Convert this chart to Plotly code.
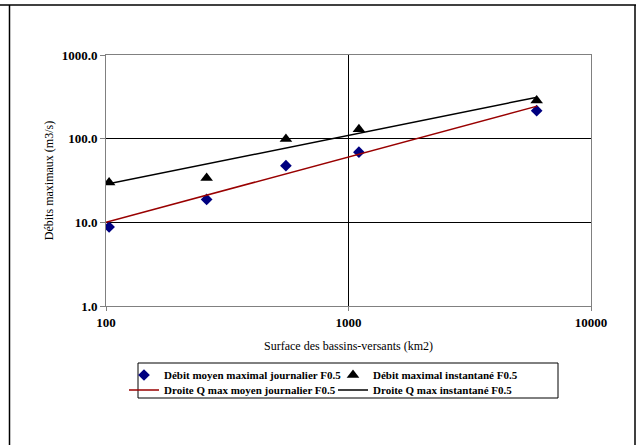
import plotly.graph_objects as go

# Data
surface_km2 = [103, 260, 552, 1104, 5970]
debit_moyen_journalier = [8.8, 18.8, 47.6, 69.0, 216.0]
debit_instantane = [30.0, 33.8, 99.0, 130.0, 285.0]

droite_x = [100, 6000]
droite_moyen = [10.0, 245.0]
droite_instantane = [28.5, 313.0]

y_ticks = [1, 10, 100, 1000]
y_tick_labels = ["1.0", "10.0", "100.0", "1000.0"]
x_ticks = [100, 1000, 10000]
x_tick_labels = ["100", "1000", "10000"]

SERIF = "Liberation Serif"

fig = go.Figure()
fig.add_trace(go.Scatter(
    x=surface_km2, y=debit_moyen_journalier, mode="markers",
    name="Débit moyen maximal journalier F0.5",
    marker=dict(symbol="diamond", size=9, color="#000080"),
    legend="legend"))
fig.add_trace(go.Scatter(
    x=surface_km2, y=debit_instantane, mode="markers",
    name="Débit maximal instantané F0.5",
    marker=dict(symbol="triangle-up", size=11, color="#000000"),
    legend="legend"))
fig.add_trace(go.Scatter(
    x=droite_x, y=droite_moyen, mode="lines",
    name="Droite Q max moyen journalier F0.5",
    line=dict(color="#990000", width=1.5),
    legend="legend2"))
fig.add_trace(go.Scatter(
    x=droite_x, y=droite_instantane, mode="lines",
    name="Droite Q max instantané F0.5",
    line=dict(color="#000000", width=1.5),
    legend="legend2"))

L, R, T, B = 106, 46, 55, 139
W, H = 637, 445
pw, ph = W - L - R, H - T - B

def px_x(x):
    return (x - L) / pw

def px_y(y):
    return (H - B - y) / ph

legend_font = dict(family=SERIF, size=11, color="black", weight="bold")

fig.update_layout(
    width=W, height=H,
    margin=dict(l=L, r=R, t=T, b=B, autoexpand=False),
    paper_bgcolor="white", plot_bgcolor="white",
    showlegend=True,
    legend=dict(orientation="h", x=px_x(124), y=px_y(375), xanchor="left", yanchor="middle",
                font=legend_font, entrywidth=164, bgcolor="rgba(0,0,0,0)",
                itemwidth=30, tracegroupgap=0),
    legend2=dict(orientation="h", x=px_x(124), y=px_y(390), xanchor="left", yanchor="middle",
                 font=legend_font, entrywidth=164, bgcolor="rgba(0,0,0,0)",
                 itemwidth=30, tracegroupgap=0),
    xaxis=dict(type="log", range=[2, 4], tickvals=x_ticks, ticktext=x_tick_labels,
               showgrid=True, gridcolor="black", gridwidth=1,
               showline=True, linecolor="#808080", linewidth=1, mirror=True,
               ticks="outside", ticklen=4, tickcolor="#808080",
               tickfont=dict(family=SERIF, size=13, color="black", weight="bold"),
               title=dict(text="Surface des bassins-versants (km2)",
                          font=dict(family=SERIF, size=12, color="black"), standoff=13),
               zeroline=False),
    yaxis=dict(type="log", range=[0, 3], tickvals=y_ticks, ticktext=y_tick_labels,
               showgrid=True, gridcolor="black", gridwidth=1,
               showline=True, linecolor="#808080", linewidth=1, mirror=True,
               ticks="outside", ticklen=5, tickcolor="#808080",
               tickfont=dict(family=SERIF, size=13, color="black", weight="bold"),
               title=dict(text="Débits maximaux (m3/s)",
                          font=dict(family=SERIF, size=12, color="black"), standoff=5),
               zeroline=False),
    shapes=[
        # legend box
        dict(type="rect", xref="paper", yref="paper",
             x0=px_x(138), x1=px_x(558), y0=px_y(398), y1=px_y(363),
             line=dict(color="black", width=1), fillcolor="rgba(0,0,0,0)", layer="below"),
        # outer frame
        dict(type="line", xref="paper", yref="paper",
             x0=px_x(0), x1=px_x(636), y0=px_y(5), y1=px_y(5),
             line=dict(color="black", width=1.5)),
        dict(type="line", xref="paper", yref="paper",
             x0=px_x(9.5), x1=px_x(9.5), y0=px_y(5), y1=px_y(445),
             line=dict(color="black", width=1.5)),
        dict(type="line", xref="paper", yref="paper",
             x0=px_x(635), x1=px_x(635), y0=px_y(5), y1=px_y(445),
             line=dict(color="black", width=1.5)),
    ],
)

fig.write_html("out.html", config={"displayModeBar": False},
               post_script="document.body.style.margin='0';")
